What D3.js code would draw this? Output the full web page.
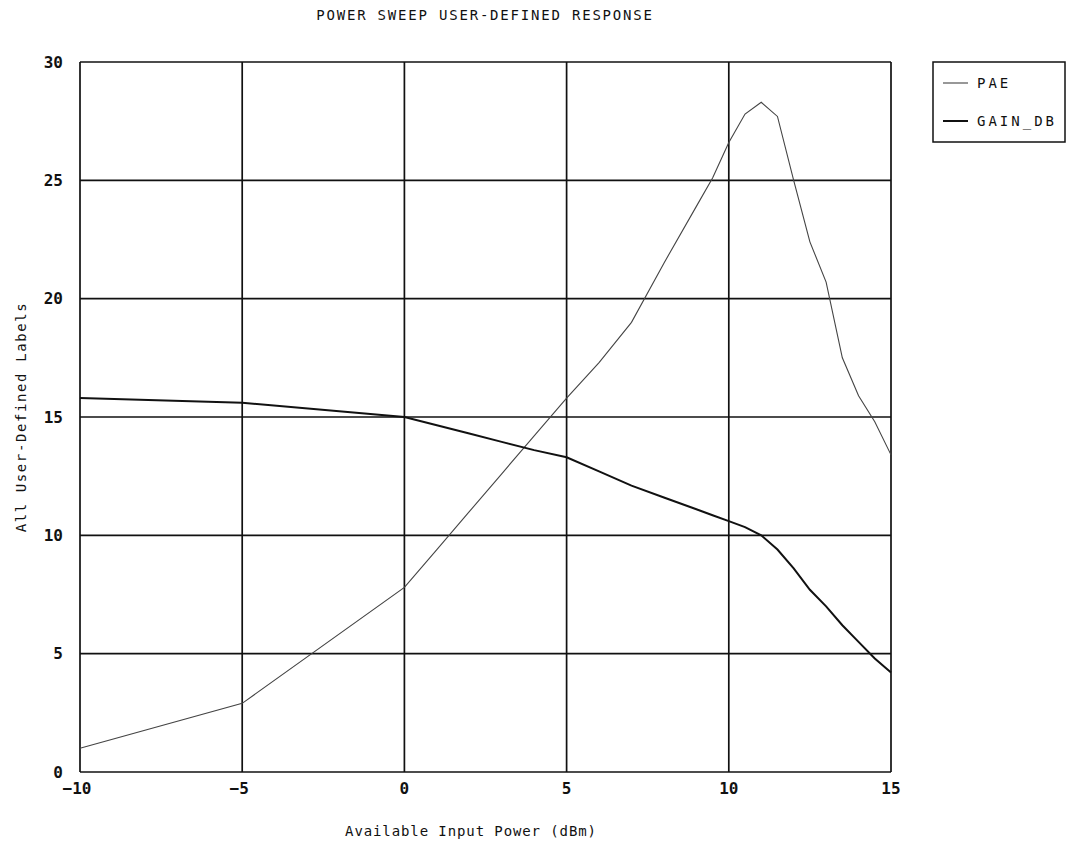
<!DOCTYPE html>
<html>
<head>
<meta charset="utf-8">
<script src="https://cdn.jsdelivr.net/npm/d3@7"></script>
<style>
  body { margin: 0; background: #fff; }
  text { font-family: "DejaVu Sans Mono", monospace; fill: #111; }
</style>
</head>
<body>
<div id="chart"></div>
<script>
// input power sweep (dBm)
const powerIn = [-10, -5, 0, 1, 2, 3, 4, 5, 6, 7, 8, 9, 9.5, 10, 10.5, 11, 11.5, 12, 12.5, 13, 13.5, 14, 14.5, 15];
const pae = [1.0, 2.9, 7.8, 9.4, 11.0, 12.6, 14.2, 15.8, 17.3, 19.0, 21.5, 23.9, 25.1, 26.6, 27.8, 28.3, 27.7, 25.0, 22.4, 20.7, 17.5, 15.9, 14.8, 13.4];
const gainDb = [15.8, 15.6, 15.0, 14.65, 14.3, 13.95, 13.6, 13.3, 12.7, 12.1, 11.6, 11.1, 10.85, 10.6, 10.35, 10.0, 9.4, 8.6, 7.7, 7.0, 6.2, 5.5, 4.8, 4.2];
const xTicks = [-10, -5, 0, 5, 10, 15];
const yTicks = [0, 5, 10, 15, 20, 25, 30];
const seriesNames = ['PAE', 'GAIN_DB'];

const width = 1076, height = 846;
const margin = {top: 62, right: 185, bottom: 74, left: 80};

const svg = d3.select('#chart').append('svg')
  .attr('width', width)
  .attr('height', height);

const x = d3.scaleLinear()
  .domain([-10, 15])
  .range([margin.left, width - margin.right]);

const y = d3.scaleLinear()
  .domain([0, 30])
  .range([height - margin.bottom, margin.top]);

// grid
const grid = svg.append('g').attr('stroke', '#111').attr('stroke-width', 1.7);
grid.selectAll('.vline').data(xTicks).enter().append('line')
  .attr('x1', d => x(d)).attr('x2', d => x(d))
  .attr('y1', y(0)).attr('y2', y(30));
grid.selectAll('.hline').data(yTicks).enter().append('line')
  .attr('x1', x(-10)).attr('x2', x(15))
  .attr('y1', d => y(d)).attr('y2', d => y(d));

// tick labels
svg.append('g').selectAll('text').data(yTicks).enter().append('text')
  .attr('x', margin.left - 17)
  .attr('y', d => y(d))
  .attr('dy', '0.36em')
  .attr('text-anchor', 'end')
  .style('font-size', '16px')
  .style('font-weight', 'bold')
  .text(d => d);

svg.append('g').selectAll('text').data(xTicks).enter().append('text')
  .attr('x', d => x(d) - (d < 0 ? 3 : 0))
  .attr('y', y(0) + 22)
  .attr('text-anchor', 'middle')
  .style('font-size', '16px')
  .style('font-weight', 'bold')
  .text(d => d < 0 ? '\u2212' + Math.abs(d) : d);

// title and axis labels
svg.append('text')
  .attr('x', 485).attr('y', 20)
  .attr('text-anchor', 'middle')
  .style('font-size', '14px')
  .style('letter-spacing', '1.8px')
  .text('POWER SWEEP USER-DEFINED RESPONSE');

svg.append('text')
  .attr('x', 471).attr('y', 836)
  .attr('text-anchor', 'middle')
  .style('font-size', '14px')
  .style('letter-spacing', '0.9px')
  .text('Available Input Power (dBm)');

svg.append('text')
  .attr('transform', `translate(26,${y(15)}) rotate(-90)`)
  .attr('text-anchor', 'middle')
  .style('font-size', '14px')
  .style('letter-spacing', '1.6px')
  .text('All User-Defined Labels');

// curves
const line = d3.line().x(d => x(d[0])).y(d => y(d[1]));

svg.append('path')
  .datum(d3.zip(powerIn, pae))
  .attr('fill', 'none')
  .attr('stroke', '#444')
  .attr('stroke-width', 1.1)
  .attr('d', line);

svg.append('path')
  .datum(d3.zip(powerIn, gainDb))
  .attr('fill', 'none')
  .attr('stroke', '#111')
  .attr('stroke-width', 2)
  .attr('d', line);

// legend
const legend = svg.append('g').attr('transform', 'translate(933,62)');
legend.append('rect')
  .attr('width', 132).attr('height', 80)
  .attr('fill', 'none').attr('stroke', '#111').attr('stroke-width', 1.5);

seriesNames.forEach((name, i) => {
  const ly = 21 + i * 38;
  legend.append('line')
    .attr('x1', 10).attr('x2', 35)
    .attr('y1', ly).attr('y2', ly)
    .attr('stroke', i === 0 ? '#444' : '#111')
    .attr('stroke-width', i === 0 ? 1.1 : 2);
  legend.append('text')
    .attr('x', 44).attr('y', ly)
    .attr('dy', '0.36em')
    .style('font-size', '14px')
    .style('letter-spacing', '3px')
    .text(name);
});
</script>
</body>
</html>
